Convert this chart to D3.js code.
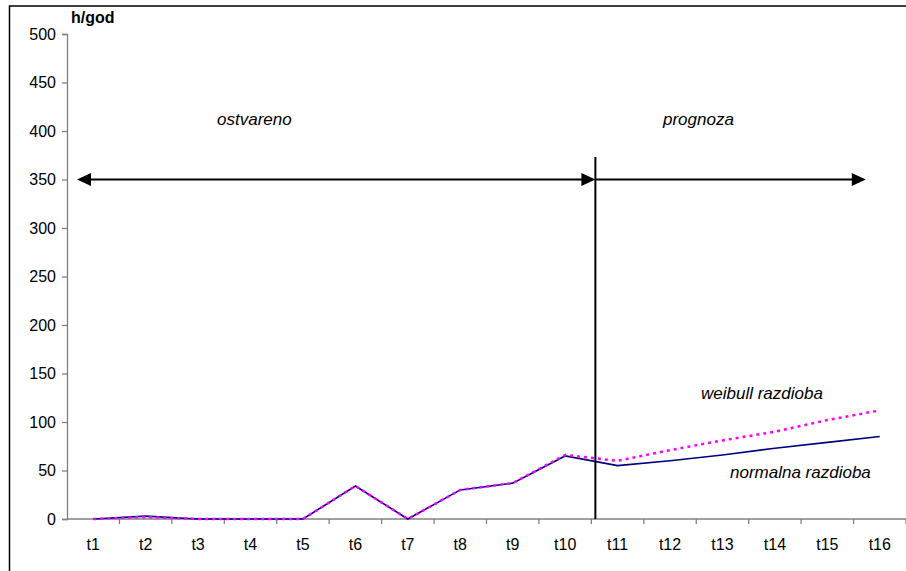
<!DOCTYPE html>
<html>
<head>
<meta charset="utf-8">
<script src="https://cdn.jsdelivr.net/npm/d3@7"></script>
<style>
  html, body { margin: 0; padding: 0; background: #fff; }
  svg { display: block; font-family: "Liberation Sans", Arial, sans-serif; }
</style>
</head>
<body>
<svg id="chart" width="906" height="571"></svg>
<script>
const categories = ["t1","t2","t3","t4","t5","t6","t7","t8","t9","t10","t11","t12","t13","t14","t15","t16"];
const normalnaValues = [0, 3, 0, 0, 0, 34, 0, 30, 37, 65, 55, 60, 66, 73, 79, 85];
const weibullValues  = [0, 2, 0, 0, 0, 34, 0, 30, 37, 66, 60, 71, 81, 90, 102, 112];
const yTicks = [0, 50, 100, 150, 200, 250, 300, 350, 400, 450, 500];
const yTitle = "h/god";
const arrowValue = 350;
const labelOstvareno = "ostvareno";
const labelPrognoza = "prognoza";
const labelWeibull = "weibull razdioba";
const labelNormalna = "normalna razdioba";

(function () {
const svg = d3.select("#chart");
const W = 906, H = 571;
const mLeft = 67, mRight = 906, mTop = 34, mBottom = 519;

// outer frame
svg.append("rect").attr("x", 9.5).attr("y", 6).attr("width", W + 10).attr("height", H + 10)
  .attr("fill", "none").attr("stroke", "#000").attr("stroke-width", 1.5);

const x = d3.scaleBand().domain(categories).range([mLeft, mRight]).padding(0);
const y = d3.scaleLinear().domain([0, 500]).range([mBottom, mTop]);
const cx = d => x(d) + x.bandwidth() / 2;

// y axis
const yAxis = d3.axisLeft(y).tickValues(yTicks).tickSize(5).tickPadding(6);
const gy = svg.append("g").attr("transform", `translate(${mLeft},0)`).call(yAxis);
gy.select(".domain").attr("stroke", "#808080").attr("stroke-width", 1.3);
gy.selectAll(".tick line").attr("stroke", "#808080").attr("stroke-width", 1.3);
gy.selectAll(".tick text").attr("font-size", 16).attr("fill", "#000")
  .attr("font-family", "Liberation Sans, Arial, sans-serif");

// x axis with ticks at category boundaries
const gx = svg.append("g").attr("transform", `translate(0,${mBottom})`);
gx.append("line").attr("x1", mLeft).attr("x2", mRight).attr("y1", 0).attr("y2", 0)
  .attr("stroke", "#808080").attr("stroke-width", 1.3);
const boundaries = categories.map(c => x(c)).concat([x.range()[1]]);
gx.selectAll("line.tk").data(boundaries.slice(1)).enter().append("line").attr("class", "tk")
  .attr("x1", d => d).attr("x2", d => d).attr("y1", 0).attr("y2", 5)
  .attr("stroke", "#808080").attr("stroke-width", 1.3);
gx.selectAll("text").data(categories).enter().append("text")
  .attr("x", d => cx(d)).attr("y", 31).attr("text-anchor", "middle")
  .attr("font-size", 16).attr("fill", "#000").text(d => d);

// y title
svg.append("text").attr("x", 71).attr("y", 23).attr("font-size", 16).attr("font-weight", "bold")
  .text(yTitle);

// lines
const line = vals => d3.line().x((d, i) => cx(categories[i])).y(d => y(d))(vals);
svg.append("path").attr("d", line(normalnaValues)).attr("fill", "none")
  .attr("stroke", "#000080").attr("stroke-width", 1.6);
svg.append("path").attr("d", line(weibullValues)).attr("fill", "none")
  .attr("stroke", "#FF00FF").attr("stroke-width", 2.5).attr("stroke-dasharray", "3,4");

// vertical divider
const divX = x("t11") + 4;
svg.append("line").attr("x1", divX).attr("x2", divX).attr("y1", 157).attr("y2", mBottom)
  .attr("stroke", "#000").attr("stroke-width", 2);

// arrows
const ay = y(arrowValue);
function arrowHead(tipX, dir) {
  const len = 14, half = 6.5;
  svg.append("path")
    .attr("d", `M${tipX},${ay} L${tipX - dir * len},${ay - half} L${tipX - dir * len},${ay + half} Z`)
    .attr("fill", "#000");
}
const leftTip = mLeft + 10, rightTip = cx("t16") - 14;
svg.append("line").attr("x1", leftTip + 10).attr("x2", divX - 10).attr("y1", ay).attr("y2", ay)
  .attr("stroke", "#000").attr("stroke-width", 2);
arrowHead(leftTip, -1);
arrowHead(divX, 1);
svg.append("line").attr("x1", divX).attr("x2", rightTip - 10).attr("y1", ay).attr("y2", ay)
  .attr("stroke", "#000").attr("stroke-width", 2);
arrowHead(rightTip, 1);

// annotations
const ann = (t, xx, yy) => svg.append("text").attr("x", xx).attr("y", yy)
  .attr("font-size", 17).attr("font-style", "italic").attr("fill", "#000").text(t);
ann(labelOstvareno, 217, 125);
ann(labelPrognoza, 663, 125);
ann(labelWeibull, 701, 399);
ann(labelNormalna, 730, 478);
})();
</script>
</body>
</html>
